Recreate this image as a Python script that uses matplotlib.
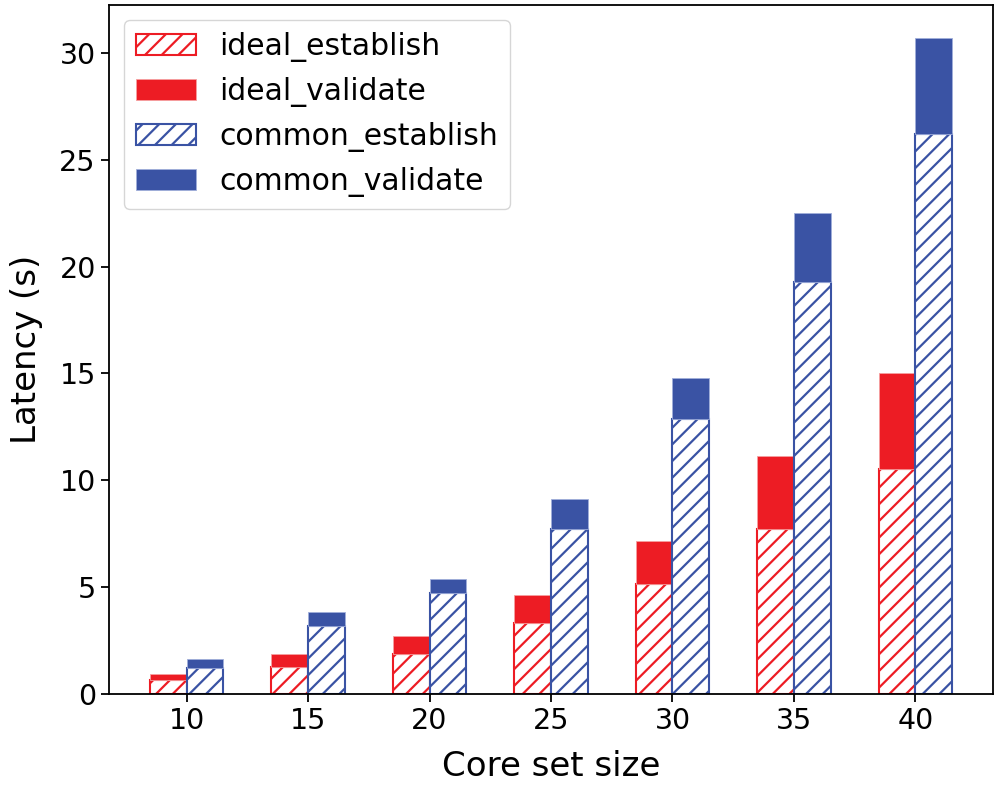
import matplotlib

matplotlib.use("Agg")
import matplotlib.pyplot as plt
import numpy as np

# core set sizes on the x axis
sizes = [10, 15, 20, 25, 30, 35, 40]

# latency in seconds: establish part (bottom) and total height of the stack
ideal_establish = [0.63, 1.24, 1.86, 3.31, 5.13, 7.71, 10.51]
ideal_total = [0.92, 1.88, 2.71, 4.61, 7.18, 11.14, 15.03]
common_establish = [1.23, 3.18, 4.74, 7.74, 12.85, 19.27, 26.20]
common_total = [1.62, 3.82, 5.40, 9.14, 14.80, 22.52, 30.69]

ideal_validate = [t - e for t, e in zip(ideal_total, ideal_establish)]
common_validate = [t - e for t, e in zip(common_total, common_establish)]

red = "#ED1C24"
blue = "#3A53A4"
plt.rcParams["hatch.linewidth"] = 1.6

x = np.array(sizes, dtype=float)
w = 1.52

fig = plt.figure(figsize=(10, 7.85), dpi=100)
ax = fig.add_axes([0.109, 0.116, 0.884, 0.877])

ax.bar(x - w, ideal_establish, w, align="edge", color="white", edgecolor=red,
       hatch="//", linewidth=1.5, label="ideal_establish")
ax.bar(x - w, ideal_validate, w, bottom=ideal_establish, align="edge", color=red,
       edgecolor="#F5A0A0", linewidth=0.6, label="ideal_validate")
ax.bar(x, common_establish, w, align="edge", color="white", edgecolor=blue,
       hatch="//", linewidth=1.5, label="common_establish")
ax.bar(x, common_validate, w, bottom=common_establish, align="edge", color=blue,
       edgecolor="#A0AEDA", linewidth=0.6, label="common_validate")

ax.set_xticks(sizes)
ax.set_xlim(6.81, 43.19)
ax.tick_params(labelsize=20.5, width=1.3, length=6)
for s in ax.spines.values():
    s.set_linewidth(1.3)
ax.set_xlabel("Core set size", fontsize=24.5, labelpad=11)
ax.set_ylabel("Latency (s)", fontsize=24.5, labelpad=12)
ax.legend(loc="upper left", fontsize=21.5, handlelength=2.0, handleheight=0.7,
          borderaxespad=0.5, labelspacing=0.5)

fig.savefig("out.png", dpi=100)
plt.close(fig)
